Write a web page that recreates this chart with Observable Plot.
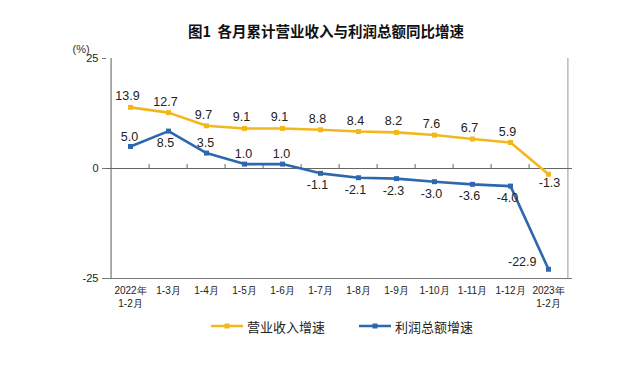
<!DOCTYPE html>
<html>
<head>
<meta charset="utf-8">
<script src="https://cdn.jsdelivr.net/npm/d3@7"></script>
<script src="https://cdn.jsdelivr.net/npm/@observablehq/plot@0.6"></script>
<style>
  html, body { margin: 0; padding: 0; background: #fff; }
  #wrap { position: relative; width: 640px; height: 368px; font-family: "Liberation Sans", Arial, sans-serif; }
  #title { height: 40px; box-sizing: border-box; padding-top: 22px; line-height: 18px; text-align: center;
    font-family: "Noto Sans CJK SC", sans-serif; font-weight: 700; font-size: 14.5px; color: #111; padding-left: 12px; }
  #legend { position: absolute; top: 316px; left: 0; width: 640px; height: 20px; font-family: "Noto Sans CJK SC", sans-serif; font-size: 13px; color: #222; }
  .item { position: absolute; top: 0; display: flex; align-items: center; height: 20px; }
  .item svg { margin-right: 3px; }
</style>
</head>
<body>
<div id="wrap">
  <div id="title">图1&nbsp;&nbsp;各月累计营业收入与利润总额同比增速</div>
  <div id="chart"></div>
  <div id="legend"></div>
</div>
<script>
const months = ["2022年\n1-2月", "1-3月", "1-4月", "1-5月", "1-6月", "1-7月", "1-8月", "1-9月", "1-10月", "1-11月", "1-12月", "2023年\n1-2月"];
const revenueGrowth = [13.9, 12.7, 9.7, 9.1, 9.1, 8.8, 8.4, 8.2, 7.6, 6.7, 5.9, -1.3];
const profitGrowth = [5.0, 8.5, 3.5, 1.0, 1.0, -1.1, -2.1, -2.3, -3.0, -3.6, -4.0, -22.9];
const yTicks = [25, 0, -25];
const seriesNames = ["营业收入增速", "利润总额增速"];
const revenueLabelSide = ["above","above","above","above","above","above","above","above","above","above","above","below"];
const profitLabelSide = ["above","below","above","above","above","below","below","below","below","below","below","left"];

const yellow = "#F2B71D";
const blue = "#2D68AE";

const rev = months.map((m, i) => ({month: m, value: revenueGrowth[i], side: revenueLabelSide[i]}));
const pro = months.map((m, i) => ({month: m, value: profitGrowth[i], side: profitLabelSide[i]}));

const marginLeft = 106, marginRight = 68, width = 640;
const step = (width - marginLeft - marginRight) / months.length;
const fmt = d => d.toFixed(1);

const plot = Plot.plot({
  width,
  height: 268,
  marginTop: 18,
  marginBottom: 30,
  marginLeft,
  marginRight,
  style: {fontFamily: "'Liberation Sans', Arial, sans-serif", color: "#222", background: "#fff"},
  x: {type: "point", domain: months, padding: 0.5, label: null},
  y: {domain: [-25, 25], label: null},
  marks: [
    Plot.ruleY([-25], {stroke: "#777", strokeWidth: 1.2}),
    Plot.ruleX([months[0]], {dx: -step / 2, y1: -25, y2: 25, stroke: "#777", strokeWidth: 1.2}),
    Plot.ruleX([months[months.length - 1]], {dx: step / 2, y1: -25, y2: 25, stroke: "#999", strokeWidth: 1}),
    Plot.ruleY([0], {stroke: "#666", strokeWidth: 1.2}),
    Plot.ruleX(months.slice(1), {dx: -step / 2, y1: 0, y2: 0.9, stroke: "#666"}),
    Plot.axisY({ticks: yTicks, tickSize: 4, tickPadding: 4, fontSize: 11, stroke: "#777", tickFormat: d => String(d)}),
    Plot.axisX({tickSize: 0, tickPadding: 6, fontSize: 10, lineHeight: 1.3, fill: "#222"}),
    Plot.text(["(%)"], {frameAnchor: "top-left", dx: -34, dy: -13, fontSize: 11, fill: "#333"}),
    Plot.line(rev, {x: "month", y: "value", stroke: yellow, strokeWidth: 2.6}),
    Plot.line(pro, {x: "month", y: "value", stroke: blue, strokeWidth: 2.6}),
    Plot.dot(rev, {x: "month", y: "value", fill: yellow, r: 2.8, symbol: "square"}),
    Plot.dot(pro, {x: "month", y: "value", fill: blue, r: 2.8, symbol: "square"}),
    Plot.text(rev.filter(d => d.side === "above"), {x: "month", y: "value", text: d => fmt(d.value), dx: -3, dy: -11, fontSize: 12.5, fill: "#222"}),
    Plot.text(rev.filter(d => d.side === "below"), {x: "month", y: "value", text: d => fmt(d.value), dx: 1, dy: 9, fontSize: 12.5, fill: "#222"}),
    Plot.text(pro.filter(d => d.side === "above"), {x: "month", y: "value", text: d => fmt(d.value), dx: -1, dy: -10, fontSize: 12.5, fill: "#222"}),
    Plot.text(pro.filter(d => d.side === "below"), {x: "month", y: "value", text: d => fmt(d.value), dx: -3, dy: 12, fontSize: 12.5, fill: "#222"}),
    Plot.text(pro.filter(d => d.side === "left"), {x: "month", y: "value", text: d => fmt(d.value), dx: -12, dy: -7, textAnchor: "end", fontSize: 12.5, fill: "#222"})
  ]
});
document.getElementById("chart").appendChild(plot);

const legend = document.getElementById("legend");
const colors = [yellow, blue];
const lefts = [210, 358];
seriesNames.forEach((name, i) => {
  const item = document.createElement("div");
  item.className = "item";
  item.style.left = lefts[i] + "px";
  item.innerHTML = `<svg width="34" height="10"><line x1="1" y1="5" x2="33" y2="5" stroke="${colors[i]}" stroke-width="2.5"/><rect x="14.5" y="2.5" width="5" height="5" fill="${colors[i]}"/></svg><span>${name}</span>`;
  legend.appendChild(item);
});
</script>
</body>
</html>
